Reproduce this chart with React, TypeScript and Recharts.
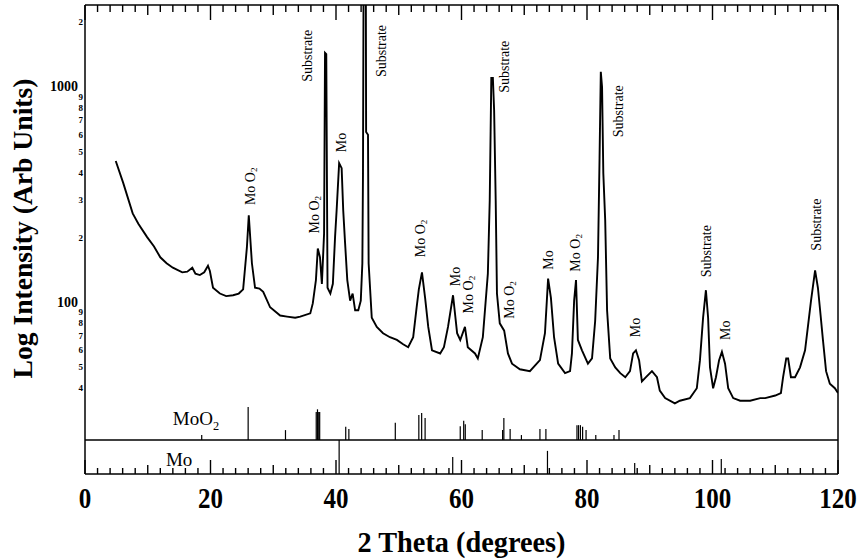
import { ComposedChart, Line, Scatter, XAxis, YAxis, ReferenceLine, ReferenceDot } from 'recharts'

const FONT = '"Liberation Serif", "Times New Roman", serif'

// XRD scan: [2theta (deg), intensity]
const scan: [number, number][] = [
  [4.9, 453], [6.1, 358], [7.6, 259], [8.5, 232], [9.9, 201], [11.0, 182], [12.0, 162], [13.0, 152],
  [14.0, 145], [15.5, 138], [16.3, 139], [17.1, 145], [17.6, 136], [18.3, 134], [19.0, 138], [19.6, 148],
  [19.9, 140], [20.4, 117], [21.5, 110], [22.5, 107], [23.6, 108], [24.5, 110], [25.2, 115], [25.8, 180],
  [26.1, 254], [26.6, 152], [27.1, 117], [27.8, 116], [28.4, 112], [29.5, 95], [31.1, 87], [32.2, 86],
  [33.5, 85], [34.3, 86], [35.9, 89], [36.3, 99], [36.8, 127], [37.1, 178], [37.45, 162], [37.75, 122],
  [38.1, 209], [38.25, 1440], [38.45, 1420], [38.65, 117], [39.1, 110], [39.5, 122], [39.85, 201], [40.1, 268],
  [40.5, 443], [40.9, 420], [41.15, 268], [41.45, 188], [41.8, 127], [42.25, 102], [42.65, 110], [43.05, 92],
  [43.55, 92], [43.95, 102], [44.2, 152], [44.3, 398], [44.4, 3500], [44.75, 3500], [44.8, 618], [45.1, 600],
  [45.2, 152], [45.7, 85], [46.5, 77], [47.5, 72], [48.6, 69], [49.7, 67], [50.7, 64], [51.5, 62],
  [52.3, 69], [52.85, 95], [53.2, 115], [53.7, 138], [54.2, 105], [54.7, 77], [55.3, 60], [56.6, 58],
  [57.2, 62], [57.85, 77], [58.65, 108], [59.3, 72], [59.8, 67], [60.55, 77], [61.0, 62], [62.15, 58],
  [62.6, 55], [63.4, 69], [64.2, 136], [64.5, 298], [64.75, 1100], [65.0, 1100], [65.2, 780], [65.45, 298],
  [65.65, 110], [66.1, 80], [66.8, 74], [67.4, 58], [68.05, 52], [69.3, 49], [70.9, 48], [72.5, 54],
  [73.3, 72], [73.6, 102], [73.8, 129], [74.25, 105], [74.75, 69], [75.4, 52], [76.5, 47], [77.3, 48],
  [77.6, 58], [77.95, 102], [78.25, 127], [78.55, 67], [79.2, 60], [80.15, 52], [80.8, 55], [81.3, 82],
  [81.75, 162], [82.0, 467], [82.2, 1175], [82.4, 1000], [82.6, 398], [82.9, 241], [83.2, 92], [83.7, 55],
  [84.5, 50], [85.3, 47], [86.1, 45], [86.85, 48], [87.35, 58], [87.8, 60], [88.3, 54], [88.75, 43],
  [89.4, 45], [90.35, 48], [91.15, 45], [91.6, 39], [92.45, 36], [94.0, 34], [94.8, 35], [96.4, 36],
  [97.5, 40], [98.0, 54], [98.5, 85], [98.95, 114], [99.3, 85], [99.6, 50], [100.1, 40], [100.55, 45],
  [101.05, 54], [101.5, 59], [102.0, 52], [102.5, 40], [103.3, 36], [104.4, 35], [106.0, 35], [107.6, 36],
  [108.4, 36], [110.0, 37], [110.9, 38], [111.25, 45], [111.75, 55], [112.05, 55], [112.5, 45], [113.15, 45],
  [113.95, 50], [114.75, 60], [115.2, 77], [115.7, 102], [116.35, 141], [116.8, 117], [117.15, 92], [117.6, 67],
  [118.1, 48], [118.7, 42], [119.5, 40], [120, 38],
]

// reference patterns: [2theta, relative intensity]
const moo2Sticks: [number, number][] = [
  [18.6, 15], [26.0, 100], [31.95, 30], [36.85, 85], [37.05, 93], [37.25, 85], [37.4, 85], [41.55, 40],
  [42.05, 33], [49.45, 52], [53.2, 76], [53.65, 82], [54.2, 67], [59.8, 42], [60.35, 58], [60.6, 48],
  [63.3, 30], [66.55, 30], [66.75, 67], [67.75, 33], [69.55, 15], [72.5, 33], [73.45, 33], [78.4, 45],
  [78.65, 45], [78.95, 45], [79.3, 40], [79.85, 30], [81.4, 15], [84.3, 15], [85.1, 30],
]
const moSticks: [number, number][] = [[40.5, 100], [58.6, 50], [73.7, 68], [87.6, 32], [101.4, 44]]

// peak labels: [2theta, intensity at label start, text]
const peakLabels: [number, number, string][] = [
  [26.45, 283, 'MoO2'], [35.5, 1056, 'Substrate'], [36.6, 209, 'MoO2'], [40.95, 498, 'Mo'],
  [47.3, 1112, 'Substrate'], [53.5, 162, 'MoO2'], [59.0, 119, 'Mo'], [61.1, 89, 'MoO2'],
  [66.8, 939, 'Substrate'], [67.7, 84, 'MoO2'], [73.9, 142, 'Mo'], [78.1, 139, 'MoO2'],
  [85.1, 584, 'Substrate'], [87.7, 69, 'Mo'], [99.0, 131, 'Substrate'], [102.0, 67, 'Mo'],
  [116.5, 174, 'Substrate'],
]

const xLabels = [0, 20, 40, 60, 80, 100, 120]
const xTicks = Array.from({ length: 61 }, (_, k) => k * 2)
const yTicks = [40, 50, 60, 70, 80, 90, 100, 200, 300, 400, 500, 600, 700, 800, 900, 1000, 2000]

const scanData = scan.map(([t, i]) => ({ t, i }))
const labelData = peakLabels.map(([t, i, text]) => ({ t, i, text }))

// "mo" axis spans the whole plot height: 0 at the bottom frame, MO_TOP at the top frame
const MO_TOP = 1379
const MO_PER_PX = MO_TOP / 469

function tickLen(v: number) {
  return (v % 20 === 0 ? 14 : v % 10 === 0 ? 9 : 6) * MO_PER_PX
}

function XTick({ x, y, payload }: any) {
  const v = payload.value
  const s = String(v)
  return (
    <text x={x} y={y + 34} textAnchor="middle" fontFamily={FONT} fontWeight="bold" fontSize={30}
      textLength={s.length * 12.5} lengthAdjust="spacingAndGlyphs" fill="#000">{s}</text>
  )
}

function LogTick({ x, y, payload }: any) {
  const v = payload.value
  if (v === 100 || v === 1000) {
    return (
      <text x={x - 7} y={y} textAnchor="end" dominantBaseline="central" fontFamily={FONT}
        fontWeight="bold" fontSize={14} fill="#000">{v}</text>
    )
  }
  return (
    <text x={x - 2} y={y} textAnchor="end" dominantBaseline="central" fontFamily={FONT}
      fontWeight="bold" fontSize={9} fill="#000">{String(v)[0]}</text>
  )
}

function Formula({ text, size, gap }: { text: string; size: number; gap: boolean }) {
  if (text === 'MoO2') {
    return (
      <>
        {gap ? 'Mo O' : 'MoO'}<tspan dy={size * 0.25} fontSize={size * 0.65}>2</tspan>
      </>
    )
  }
  return <>{text}</>
}

function PeakLabel({ cx, cy, payload }: any) {
  return (
    <text x={cx} y={cy} transform={`rotate(-90 ${cx} ${cy})`} textAnchor="start" dominantBaseline="central"
      fontFamily={FONT} fontSize={14} fill="#000">
      <Formula text={payload.text} size={14} gap />
    </text>
  )
}

function PanelLabel(text: string) {
  return ({ cx, cy }: any) => (
    <text x={cx} y={cy} fontFamily={FONT} fontSize={19} fill="#000">
      <Formula text={text} size={19} gap={false} />
    </text>
  )
}

function XTitle(props: any) {
  const vb = props.viewBox || { x: 85, y: 474, width: 753, height: 1 }
  return (
    <text x={vb.x + vb.width / 2} y={vb.y + 78} textAnchor="middle" fontFamily={FONT} fontWeight="bold"
      fontSize={30} textLength={208} lengthAdjust="spacingAndGlyphs" fill="#000">2 Theta (degrees)</text>
  )
}

function YTitle(props: any) {
  const vb = props.viewBox || { x: 84, y: 5, width: 1, height: 469 }
  const cx = vb.x - 52
  const cy = vb.y + vb.height / 2 - 11
  return (
    <text x={cx} y={cy} transform={`rotate(-90 ${cx} ${cy})`} textAnchor="middle" fontFamily={FONT}
      fontWeight="bold" fontSize={28} textLength={300} lengthAdjust="spacingAndGlyphs" fill="#000">
      Log Intensity (Arb Units)
    </text>
  )
}

const frame = { stroke: '#000', strokeWidth: 1.5 }

export default function App() {
  return (
    <div style={{ position: 'absolute', left: 0, top: 0, width: 860, height: 559, background: '#fff' }}>
      <ComposedChart width={860} height={559} margin={{ top: 4, right: 21, bottom: 84, left: 84 }}>
        <XAxis xAxisId={0} dataKey="t" type="number" domain={[0, 120]} allowDataOverflow ticks={xLabels}
          interval={0} height={1} tickSize={0} tickMargin={0} tickLine={false} tick={<XTick />}
          axisLine={frame} label={<XTitle />} />
        <XAxis xAxisId="top" orientation="top" dataKey="t" type="number" domain={[0, 120]} allowDataOverflow
          height={1} tick={false} tickLine={false} axisLine={frame} />
        <YAxis yAxisId="log" dataKey="i" scale="log" type="number" domain={[16, 2400]} allowDataOverflow
          ticks={yTicks} interval={0} width={1} tickSize={0} tickMargin={0} tickLine={false}
          tick={<LogTick />} axisLine={frame} label={<YTitle />} />
        <YAxis yAxisId="frame" orientation="right" type="number" domain={[0, 1]} allowDataOverflow width={1}
          tick={false} tickLine={false} axisLine={frame} />
        <YAxis yAxisId="moo2" type="number" domain={[-103, 1318]} allowDataOverflow hide />
        <YAxis yAxisId="mo" type="number" domain={[0, MO_TOP]} allowDataOverflow hide />

        {/* inward tick marks on the bottom and top frame */}
        {xTicks.map((t) => (
          <ReferenceLine key={`tb${t}`} yAxisId="mo" stroke="#000" strokeWidth={1.4} ifOverflow="visible"
            segment={[{ x: t, y: 0 }, { x: t, y: tickLen(t) }]} />
        ))}
        {xTicks.map((t) => (
          <ReferenceLine key={`tt${t}`} yAxisId="mo" stroke="#000" strokeWidth={1.4} ifOverflow="visible"
            segment={[{ x: t, y: MO_TOP }, { x: t, y: MO_TOP - tickLen(t) - MO_PER_PX }]} />
        ))}

        <ReferenceLine yAxisId="moo2" y={0} stroke="#000" strokeWidth={1.5} />
        {moo2Sticks.map(([t, r], k) => (
          <ReferenceLine key={`a${k}`} yAxisId="moo2" stroke="#000" strokeWidth={1.2}
            segment={[{ x: t, y: 0 }, { x: t, y: r }]} />
        ))}
        {moSticks.map(([t, r], k) => (
          <ReferenceLine key={`b${k}`} yAxisId="mo" stroke="#000" strokeWidth={1.2}
            segment={[{ x: t, y: 0 }, { x: t, y: r * 34 * MO_PER_PX / 100 }]} />
        ))}
        <ReferenceDot yAxisId="moo2" x={14.0} y={45} r={0} shape={PanelLabel('MoO2')} />
        <ReferenceDot yAxisId="mo" x={12.9} y={24} r={0} shape={PanelLabel('Mo')} />

        <Line yAxisId="log" data={scanData} dataKey="i" type="linear" dot={false} stroke="#000"
          strokeWidth={1.9} isAnimationActive={false} />
        <Scatter yAxisId="log" data={labelData} dataKey="i" shape={<PeakLabel />} isAnimationActive={false} />
      </ComposedChart>
    </div>
  )
}
